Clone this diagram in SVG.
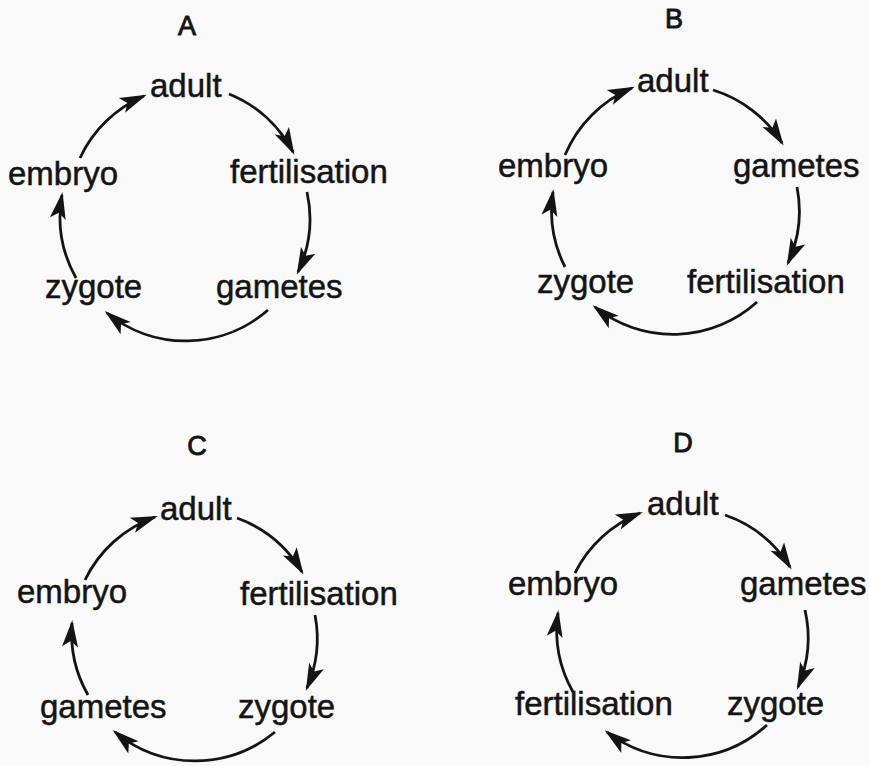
<svg xmlns="http://www.w3.org/2000/svg" width="869" height="766" viewBox="0 0 869 766">
<style>
.lbl{font-family:"Liberation Sans",Arial,sans-serif;font-size:33px;fill:#141414;stroke:#141414;stroke-width:0.5}
.ttl{font-family:"Liberation Sans",Arial,sans-serif;font-size:27px;fill:#141414;stroke:#141414;stroke-width:0.9;text-anchor:middle}
.arc{fill:none;stroke:#141414;stroke-width:2.8;marker-end:url(#ah)}
</style>
<defs>
<marker id="ah" markerUnits="userSpaceOnUse" orient="auto" viewBox="-30 -10 40 20" markerWidth="40" markerHeight="20" refX="0" refY="0" overflow="visible">
<path d="M-24,-8 L3,0 L-24,8 L-18,0 Z" fill="#141414"/>
</marker>
</defs>
<rect width="869" height="766" fill="#f9f9f9"/>

<g id="panelA">
<text id="titleA" class="ttl" x="187" y="35">A</text>
<g id="A-adult"><text class="lbl" x="150" y="97">adult</text></g>
<g id="A-fertilisation"><text class="lbl" x="230" y="183">fertilisation</text></g>
<g id="A-gametes"><text class="lbl" x="216" y="298">gametes</text></g>
<g id="A-zygote"><text class="lbl" x="45" y="298">zygote</text></g>
<g id="A-embryo"><text class="lbl" x="8" y="185">embryo</text></g>
<g id="A-connectors">
<path class="arc" d="M80,158 A125,125 0 0 1 144,96"/>
<path class="arc" d="M229,94 A125,125 0 0 1 293,152"/>
<path class="arc" d="M307,192 A125,125 0 0 1 298,272"/>
<path class="arc" d="M268,310 A125,125 0 0 1 107,313"/>
<path class="arc" d="M76,278 A125,125 0 0 1 62,195"/>
</g>
</g>

<g id="panelB">
<text id="titleB" class="ttl" x="674" y="28">B</text>
<g id="B-adult"><text class="lbl" x="637" y="92">adult</text></g>
<g id="B-gametes"><text class="lbl" x="733" y="177">gametes</text></g>
<g id="B-fertilisation"><text class="lbl" x="687" y="293">fertilisation</text></g>
<g id="B-zygote"><text class="lbl" x="537" y="293">zygote</text></g>
<g id="B-embryo"><text class="lbl" x="498" y="177">embryo</text></g>
<g id="B-connectors">
<path class="arc" d="M565,155 A125,125 0 0 1 632,88"/>
<path class="arc" d="M713,90 A125,125 0 0 1 782,143"/>
<path class="arc" d="M797,187 A125,125 0 0 1 788,263"/>
<path class="arc" d="M757,302 A125,125 0 0 1 595,307"/>
<path class="arc" d="M565,267 A125,125 0 0 1 553,192"/>
</g>
</g>

<g id="panelC">
<text id="titleC" class="ttl" x="197" y="455">C</text>
<g id="C-adult"><text class="lbl" x="160" y="520">adult</text></g>
<g id="C-fertilisation"><text class="lbl" x="240" y="605">fertilisation</text></g>
<g id="C-zygote"><text class="lbl" x="238" y="718">zygote</text></g>
<g id="C-gametes"><text class="lbl" x="40" y="718">gametes</text></g>
<g id="C-embryo"><text class="lbl" x="17" y="603">embryo</text></g>
<g id="C-connectors">
<path class="arc" d="M85,580 A125,125 0 0 1 155,517"/>
<path class="arc" d="M237,518 A125,125 0 0 1 302,572"/>
<path class="arc" d="M315,615 A125,125 0 0 1 307,688"/>
<path class="arc" d="M275,732 A125,125 0 0 1 115,732"/>
<path class="arc" d="M88,695 A125,125 0 0 1 72,623"/>
</g>
</g>

<g id="panelD">
<text id="titleD" class="ttl" x="683" y="452">D</text>
<g id="D-adult"><text class="lbl" x="647" y="515">adult</text></g>
<g id="D-gametes"><text class="lbl" x="740" y="595">gametes</text></g>
<g id="D-zygote"><text class="lbl" x="727" y="715">zygote</text></g>
<g id="D-fertilisation"><text class="lbl" x="515" y="715">fertilisation</text></g>
<g id="D-embryo"><text class="lbl" x="508" y="595">embryo</text></g>
<g id="D-connectors">
<path class="arc" d="M575,573 A125,125 0 0 1 640,513"/>
<path class="arc" d="M725,515 A125,125 0 0 1 790,567"/>
<path class="arc" d="M805,610 A125,125 0 0 1 798,687"/>
<path class="arc" d="M767,725 A125,125 0 0 1 607,732"/>
<path class="arc" d="M573,692 A125,125 0 0 1 558,613"/>
</g>
</g>
</svg>
